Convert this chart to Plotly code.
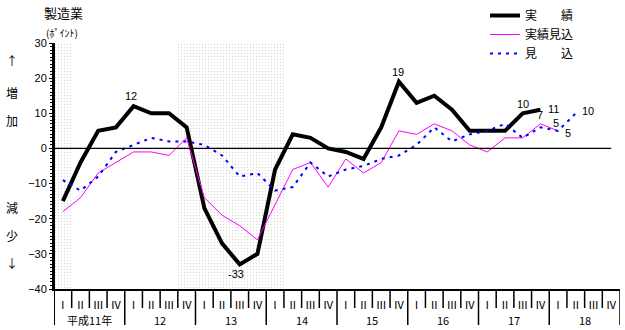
import plotly.graph_objects as go

# ---- data -------------------------------------------------------------
quarter_labels = ["Ⅰ", "Ⅱ", "Ⅲ", "Ⅳ"] * 8
year_labels = ["平成11年", "12", "13", "14", "15", "16", "17", "18"]

# 実績 (H11 I - H17 IV)
actual = [-15, -4, 5, 6, 12, 10, 10, 6, -17, -27, -33, -30, -6, 4, 3, 0,
          -1, -3, 6, 19, 13, 15, 11, 5, 5, 5, 10, 11]
# 実績見込 (H11 I - H18 I)
actual_est = [-18, -14, -7, -4, -1, -1, -2, 3, -14, -19, -22, -26, -16, -6, -4, -11,
              -3, -7, -4, 5, 4, 7, 5, 1, -1, 3, 3, 7, 5]
# 見込 (H11 I - H18 II)
forecast = [-9, -12, -8, -1, 1, 3, 2, 2, 1, -2, -8, -7, -12, -11, -4, -8,
            -6, -5, -3, -2, 1, 6, 2, 4, 5, 7, 3, 6, 5, 10]
# recession quarters (shaded)
shaded_quarters = [0, 7, 8, 9, 10, 11, 12]

n_q = len(quarter_labels)
Y_MIN, Y_MAX = -40, 30

# label placement: (quarter index, xshift px, yshift px)
actual_marks = [(4, -3, 10), (10, -4, -10), (19, -1, 10), (26, 0, 9), (27, 13, 1)]
actual_est_marks = [(27, 0, 9), (28, -2, 8)]
forecast_marks = [(28, 10, -2), (29, 12, 2)]

JP = "Noto Sans CJK JP"
NUM = "Liberation Sans"

# plot-area geometry in pixels, used to place the captions outside it
L, R, T, B = 54, 5, 43, 41
PW, PH = 625 - L - R, 330 - T - B


def px_x(px):
    return (px - L) / PW


def px_y(py):
    return (330 - B - py) / PH


fig = go.Figure()

# shaded recession bands with a fine dot pattern
fig.add_trace(go.Bar(
    x=shaded_quarters, y=[Y_MAX - Y_MIN] * len(shaded_quarters), base=Y_MIN,
    width=1, showlegend=False, hoverinfo="skip",
    marker=dict(color="white", line=dict(width=0),
                pattern=dict(shape=".", fgcolor="#b4b4b4", bgcolor="white",
                             size=3, solidity=0.15)),
))

fig.add_trace(go.Scatter(
    x=list(range(len(actual))), y=actual, mode="lines", name="実　　績",
    line=dict(color="black", width=4),
))
fig.add_trace(go.Scatter(
    x=list(range(len(actual_est))), y=actual_est, mode="lines", name="実績見込",
    line=dict(color="#ff00ff", width=1),
))
fig.add_trace(go.Scatter(
    x=list(range(len(forecast))), y=forecast, mode="lines", name="見　　込",
    line=dict(color="#0000ff", width=2, dash="3px,5px"),
))

annotations = []
for series, marks in ((actual, actual_marks), (actual_est, actual_est_marks),
                      (forecast, forecast_marks)):
    for i, dx, dy in marks:
        annotations.append(dict(x=i, y=series[i], xref="x", yref="y", text=str(series[i]),
                                showarrow=False, xshift=dx, yshift=dy,
                                xanchor="center", yanchor="middle",
                                font=dict(family=NUM, size=11, color="black")))

# year labels below the quarter row
for k, lab in enumerate(year_labels):
    annotations.append(dict(x=4 * k + 1.5, y=px_y(320), xref="x", yref="paper", text=lab,
                            showarrow=False, xanchor="center", yanchor="middle",
                            font=dict(family=JP, size=11, color="black")))

# titles and side captions
annotations.append(dict(x=px_x(63), y=px_y(12), xref="paper", yref="paper", text="製造業",
                        showarrow=False, xanchor="center", yanchor="middle",
                        font=dict(family=JP, size=13, color="black")))
annotations.append(dict(x=px_x(62), y=px_y(32), xref="paper", yref="paper", text="(ﾎﾟｲﾝﾄ)",
                        showarrow=False, xanchor="center", yanchor="middle",
                        font=dict(family=JP, size=10, color="black")))
side = [("↑", 61), ("増", 92), ("加", 121), ("減", 207), ("少", 235), ("↓", 262)]
for ch, ypx in side:
    annotations.append(dict(x=px_x(12), y=px_y(ypx), xref="paper", yref="paper", text=ch,
                            showarrow=False, xanchor="center", yanchor="middle",
                            font=dict(family=JP, size=12, color="black")))

shapes = []
# zero line
shapes.append(dict(type="line", xref="x", yref="y", x0=-0.5, x1=31.0, y0=0, y1=0,
                   line=dict(color="black", width=1.2), layer="above"))
# left axis extended into the label area
shapes.append(dict(type="line", xref="x", yref="paper", x0=-0.5, x1=-0.5,
                   y0=px_y(325), y1=1, line=dict(color="black", width=2)))
# quarter / year separators
for k in range(1, n_q + 1):
    y0 = px_y(325) if k % 4 == 0 else px_y(308)
    shapes.append(dict(type="line", xref="x", yref="paper", x0=k - 0.5, x1=k - 0.5,
                       y0=y0, y1=0, line=dict(color="black", width=1.5)))

fig.update_layout(
    width=625, height=330,
    margin=dict(l=L, r=R, t=T, b=B, autoexpand=False),
    plot_bgcolor="white", paper_bgcolor="white",
    showlegend=True,
    legend=dict(x=px_x(485), y=px_y(1), xanchor="left", yanchor="top",
                font=dict(family=JP, size=12, color="black"),
                bgcolor="rgba(0,0,0,0)", itemwidth=30, tracegroupgap=0),
    xaxis=dict(range=[-0.5, n_q - 0.5], tickvals=list(range(n_q)), ticktext=quarter_labels,
               ticks="", showgrid=False, zeroline=False, showline=True,
               linecolor="black", linewidth=2, ticklabelstandoff=5,
               tickfont=dict(family=JP, size=11, color="black")),
    yaxis=dict(range=[Y_MIN, Y_MAX], dtick=10, showgrid=False, zeroline=False,
               showline=True, linecolor="black", linewidth=2,
               ticks="outside", ticklen=3, tickcolor="black", ticklabelstandoff=0,
               minor=dict(dtick=1, ticks="outside", ticklen=2, tickcolor="black"),
               tickfont=dict(family=NUM, size=11, color="black")),
    annotations=annotations,
    shapes=shapes,
    bargap=0,
)

fig.write_html("out.html")
